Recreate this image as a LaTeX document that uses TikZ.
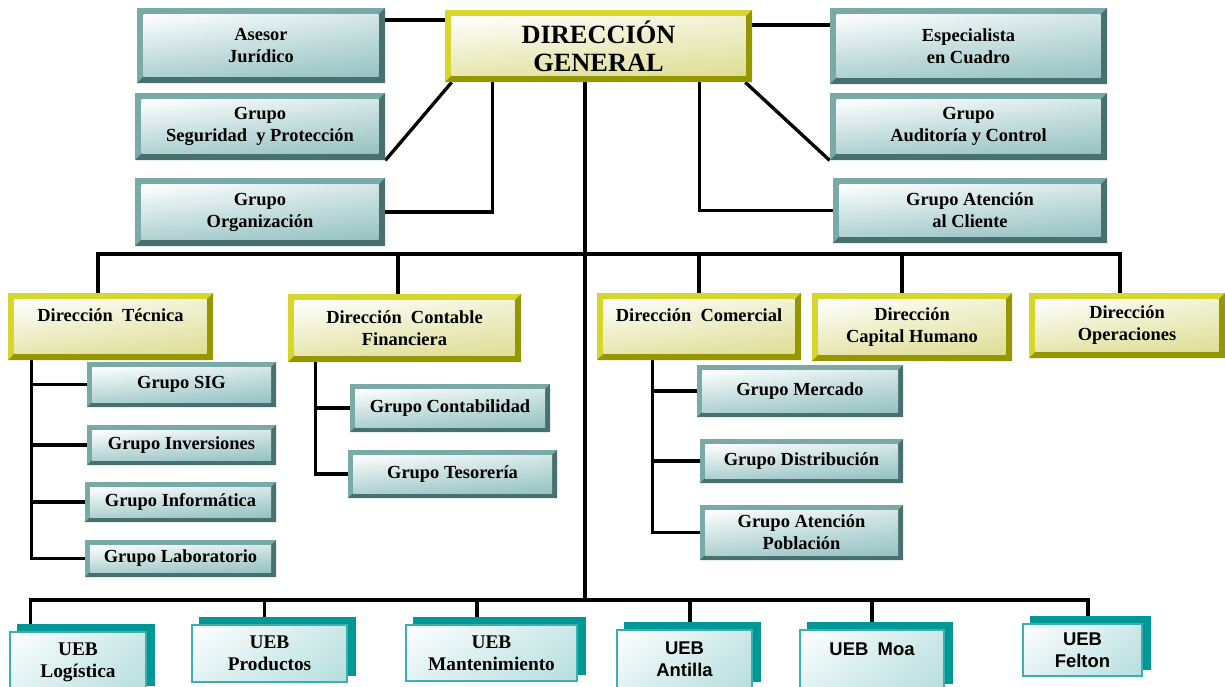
\documentclass[tikz,border=0pt]{standalone}
\usepackage{fontspec}
\setmainfont{Liberation Serif}
\newfontfamily\arialfont{Liberation Sans}
\usetikzlibrary{positioning,shadows,shadings,backgrounds}
\definecolor{framelight}{RGB}{122,170,168}
\definecolor{framedark}{RGB}{72,112,110}
\definecolor{innerteal}{RGB}{150,194,194}
\definecolor{olivelight}{RGB}{214,214,44}
\definecolor{olivedark}{RGB}{150,150,0}
\definecolor{innerolive}{RGB}{222,222,150}
\definecolor{uebshadow}{RGB}{0,152,150}
\definecolor{uebedge}{RGB}{60,176,176}
\definecolor{uebinner}{RGB}{182,222,222}

\begin{document}
\begin{tikzpicture}[x=0.2mm, y=-0.2mm,
  bevel/.style n args={4}{fill=#1, path picture={
      \path (path picture bounding box.south west) coordinate (sw)
            (path picture bounding box.south east) coordinate (se)
            (path picture bounding box.north east) coordinate (ne);
      \fill[#2] (sw) -- (se) -- (ne) -- ([shift={(-#4,-#4)}]ne)
        -- ([shift={(-#4,#4)}]se) -- ([shift={(#4,#4)}]sw) -- cycle;
      \shade[upper left=white, upper right=#3!40, lower left=#3!75, lower right=#3]
        ([shift={(#4,#4)}]sw) rectangle ([shift={(-#4,-#4)}]ne);
    }},
  tealbox/.style={bevel={framelight}{framedark}{innerteal}{#1}, align=center,
    inner sep=0pt, font=\bfseries\fontsize{10.5}{12.5}\selectfont},
  tealbox/.default=1.3mm,
  olivebox/.style={bevel={olivelight}{olivedark}{innerolive}{1.3mm}, align=center,
    inner sep=0pt, font=\bfseries\fontsize{10.5}{12.5}\selectfont},
  uebbox/.style={draw=uebedge, line width=0.8pt, shade, upper left=white,
    upper right=uebinner!70, lower left=uebinner!40, lower right=uebinner,
    copy shadow={shadow xshift=1.6mm, shadow yshift=1.4mm, fill=uebshadow, draw=uebshadow},
    align=center, inner sep=0pt, font=\bfseries\fontsize{11}{12.5}\selectfont},
  arialtext/.style={font=\arialfont\bfseries\fontsize{10.5}{12.5}\selectfont},
  wh/.style 2 args={minimum width=#1*0.2mm, minimum height=#2*0.2mm},
  link/.style={line width=1.9pt, draw=black}
]
\useasboundingbox (0,0) rectangle (1225,686);

% Direccion general and its advisers
\node[olivebox, wh={307}{72}, font=\bfseries\fontsize{15}{16}\selectfont] (dg) at (598.5,46) {DIRECCIÓN\\GENERAL};
\node[tealbox, wh={248}{75}] (asesor) at (261,45.5) {Asesor\\Jurídico};
\node[tealbox, wh={250}{67}] (seguridad) at (260,126.5) {Grupo\\Seguridad\enspace y Protección};
\node[tealbox, wh={250}{68}] (organizacion) at (260,212) {Grupo\\Organización};
\node[tealbox, wh={277}{76}] (especialista) at (968.5,46) {Especialista\\en Cuadro};
\node[tealbox, wh={277}{67}] (auditoria) at (968.5,126.5) {Grupo\\Auditoría y Control};
\node[tealbox, wh={274}{65}] (atcliente) at (970,210.5) {Grupo Atención\\al Cliente};

% Direcciones
\node[olivebox, wh={205}{67}] (tecnica) at (110.5,326.5) {Dirección\enspace Técnica\\\phantom{X}};
\node[olivebox, wh={233}{68}] (contable) at (404.5,328) {Dirección\enspace Contable\\Financiera};
\node[olivebox, wh={204}{67}] (comercial) at (699,326.5) {Dirección\enspace Comercial\\\phantom{X}};
\node[olivebox, wh={200}{68}] (chumano) at (912,327) {Dirección\\Capital Humano};
\node[olivebox, wh={196}{65}] (operaciones) at (1127,325.5) {Dirección\\Operaciones};

% Grupos
\node[tealbox=1mm, wh={189}{45}] (sig) at (181.5,384.5) {Grupo SIG};
\node[tealbox=1mm, wh={189}{40}] (inversiones) at (181.5,445) {Grupo Inversiones};
\node[tealbox=1mm, wh={191}{40}] (informatica) at (180.5,502) {Grupo Informática};
\node[tealbox=1mm, wh={191}{37}] (laboratorio) at (180.5,558.5) {Grupo Laboratorio};
\node[tealbox=1mm, wh={200}{48}] (contabilidad) at (450,408) {Grupo Contabilidad};
\node[tealbox=1mm, wh={209}{48}] (tesoreria) at (452.5,474) {Grupo Tesorería};
\node[tealbox=1mm, wh={206}{52}] (mercado) at (800,391) {Grupo Mercado};
\node[tealbox=1mm, wh={203}{44}] (distribucion) at (801.5,461) {Grupo Distribución};
\node[tealbox=1mm, wh={203}{55}] (atpoblacion) at (801.5,532.5) {Grupo Atención\\Población};

% UEB
\node[uebbox, wh={136}{60}] (logistica) at (78,662) {UEB\\Logística};
\node[uebbox, wh={155}{57}] (productos) at (269.5,653.5) {UEB\\Productos};
\node[uebbox, wh={171}{56}] (mantenimiento) at (491.5,653) {UEB\\Mantenimiento};
\node[uebbox, arialtext, wh={135}{58}] (antilla) at (684.5,659) {UEB\\Antilla};
\node[uebbox, arialtext, wh={144}{60}] (moa) at (872,660) {UEB\enspace Moa\\\phantom{X}};
\node[uebbox, arialtext, wh={119}{52}] (felton) at (1082.5,650) {UEB\\Felton};

\begin{scope}[on background layer]
\coordinate (ase) at ([yshift=5.1mm]asesor.east);
\coordinate (esp) at ([yshift=4.2mm]dg.east);
\coordinate (orgup) at ([xshift=9.6mm]dg.south west);
\coordinate (cliup) at ([xshift=51mm]dg.south west);
\coordinate (busT) at (585,254);
\coordinate (busB) at (585,600);
\draw[link] (ase) -- (ase -| dg.west);
\draw[link] (esp) -- (esp -| especialista.west);
\draw[link] (seguridad.south east) -- ([xshift=1.4mm]dg.south west);
\draw[link] (organizacion.east) -| (orgup);
\draw[link] (cliup) |- (atcliente.west);
\draw[link] ([xshift=-1.4mm]dg.south east) -- (auditoria.south west);
\draw[link] (dg.south -| busB) -- (busB);

% upper bus
\draw[link] ([xshift=-2.5mm]tecnica.north) |- (busT) -| ([xshift=-1.4mm]operaciones.north);
\foreach \n/\s in {contable/-1.3mm, comercial/0mm, chumano/-2mm}
  \draw[link] ([xshift=\s]\n.north) |- (busT);

% group spines
\draw[link] ([xshift=4.8mm]tecnica.south west) |- (laboratorio.west);
\foreach \g in {sig,inversiones,informatica}
  \draw[link] (\g.west) -| ([xshift=4.8mm]tecnica.south west);
\draw[link] ([xshift=5.6mm]contable.south west) |- (tesoreria.west);
\draw[link] (contabilidad.west) -| ([xshift=5.6mm]contable.south west);
\draw[link] ([xshift=11.2mm]comercial.south west) |- (atpoblacion.west);
\foreach \g in {mercado,distribucion}
  \draw[link] (\g.west) -| ([xshift=11.2mm]comercial.south west);

% lower bus
\draw[link] ([xshift=4.2mm]logistica.north west) |- (busB) -| ([xshift=1.1mm]felton.north);
\foreach \n/\s in {productos/-1mm, mantenimiento/-2.9mm, antilla/1.1mm, moa/0mm}
  \draw[link] ([xshift=\s]\n.north) |- (busB);
\end{scope}
\end{tikzpicture}
\end{document}
